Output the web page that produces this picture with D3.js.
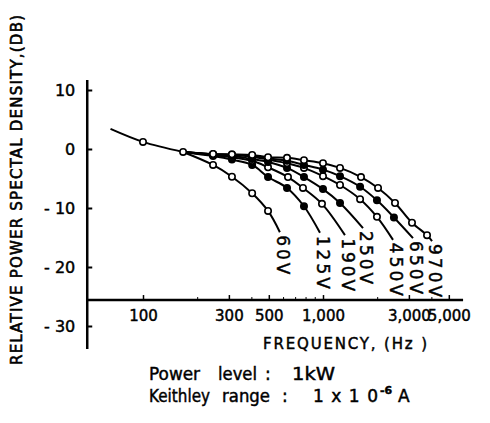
<!DOCTYPE html>
<html>
<head>
<meta charset="utf-8">
<script src="https://cdn.jsdelivr.net/npm/d3@7"></script>
<style>
body { margin: 0; background: #fff; }
text { font-family: "DejaVu Sans", sans-serif; fill: #000; stroke: #000; stroke-width: 0.45px; }
</style>
</head>
<body>
<script>
var seriesLabels = ["60V", "125V", "190V", "250V", "450V", "650V", "970V"];
var seriesFilled = [false, true, false, true, false, true, false];

// common start of every curve (first point is the bare line start)
var trunkFreq = [66, 100, 167];
var trunkDb = [3.4, 1.2, -0.5];

// first entry is the shared 167 Hz point, last entry is the unmarked end of the curve
var seriesFreq = [
  [167, 245, 312, 404, 495, 576],
  [167, 245, 312, 404, 495, 631, 784, 962],
  [167, 245, 312, 404, 495, 639, 774, 987, 1324],
  [167, 245, 312, 404, 495, 631, 784, 1000, 1243, 1668],
  [167, 245, 312, 404, 495, 631, 784, 1000, 1243, 1607, 1994, 2449],
  [167, 245, 312, 404, 495, 631, 784, 1000, 1243, 1607, 1994, 2478, 3162],
  [167, 245, 312, 404, 495, 631, 784, 1000, 1243, 1626, 2022, 2512, 3122, 3784, 4034]
];
var seriesDb = [
  [-0.5, -2.7, -4.7, -7.5, -10.5, -14.1],
  [-0.5, -1.2, -1.8, -2.7, -4.75, -6.6, -9.7, -14.2],
  [-0.5, -1.0, -1.4, -2.0, -3.1, -4.75, -6.6, -9.3, -14.6],
  [-0.5, -1.0, -1.2, -1.7, -2.2, -3.2, -4.75, -6.8, -9.15, -13.4],
  [-0.5, -0.9, -1.0, -1.3, -1.8, -2.4, -3.2, -4.6, -6.1, -8.5, -11.5, -15.4],
  [-0.5, -0.9, -1.0, -1.2, -1.6, -2.0, -2.7, -3.5, -4.6, -6.4, -8.7, -11.6, -15.1],
  [-0.5, -0.85, -0.9, -1.0, -1.4, -1.5, -1.9, -2.4, -3.2, -4.75, -6.6, -9.15, -12.5, -14.6, -15.6]
];

var yTicks = [10, 0, -10, -20, -30];
var xTicks = [100, 300, 500, 1000, 3000, 5000];
var xMinorTicks = [200, 400, 600, 700, 800, 900, 2000, 4000];
var xAxisDb = -25.6;
var xStart = 49, xEnd = 6000;
var yTop = 11.7, yBottom = -33.9;

var width = 490, height = 423;

var x = d3.scaleLog().domain([100, 1000]).range([143, 323]);
var y = d3.scaleLinear().domain([10, -30]).range([90, 326]);

var svg = d3.select("body").append("svg")
  .attr("width", width)
  .attr("height", height);

// axis lines
svg.append("line")
  .attr("x1", x(xStart)).attr("x2", x(xStart))
  .attr("y1", y(yTop)).attr("y2", y(yBottom))
  .attr("stroke", "#000").attr("stroke-width", 2.5);

svg.append("line")
  .attr("x1", x(xStart)).attr("x2", x(xEnd))
  .attr("y1", y(xAxisDb)).attr("y2", y(xAxisDb))
  .attr("stroke", "#000").attr("stroke-width", 2.5);

var yAxis = svg.append("g")
  .attr("transform", "translate(" + x(xStart) + ",0)")
  .call(d3.axisLeft(y).tickValues(yTicks).tickSize(-5).tickPadding(12)
    .tickFormat(function(d) { return d < 0 ? "- " + (-d) : d; }));
yAxis.select(".domain").remove();
yAxis.selectAll("line").attr("stroke-width", 2);
yAxis.selectAll("text").style("font-size", "16px").style("font-family", "DejaVu Sans");

var xAxis = svg.append("g")
  .attr("transform", "translate(0," + y(xAxisDb) + ")")
  .call(d3.axisBottom(x).tickValues(xTicks).tickSize(-5).tickPadding(10)
    .tickFormat(d3.format(",")));
xAxis.select(".domain").remove();
xAxis.selectAll("line").attr("stroke-width", 1.5);
xAxis.selectAll("text").style("font-size", "15px").style("font-family", "DejaVu Sans");

var xMinor = svg.append("g")
  .attr("transform", "translate(0," + y(xAxisDb) + ")")
  .call(d3.axisBottom(x).tickValues(xMinorTicks).tickSize(-3).tickFormat(""));
xMinor.select(".domain").remove();

// curves
var line = d3.line()
  .x(function(d) { return x(d[0]); })
  .y(function(d) { return y(d[1]); })
  .curve(d3.curveCatmullRom.alpha(0.5));

var trunk = trunkFreq.map(function(f, i) { return [f, trunkDb[i]]; });

svg.append("path")
  .attr("d", line(trunk))
  .attr("fill", "none").attr("stroke", "#000").attr("stroke-width", 2);

seriesFreq.forEach(function(fs, s) {
  var pts = fs.map(function(f, i) { return [f, seriesDb[s][i]]; });
  svg.append("path")
    .attr("d", line(pts))
    .attr("fill", "none").attr("stroke", "#000").attr("stroke-width", 2);
});

// markers: open on the shared points, then per series
svg.selectAll("circle.trunk")
  .data(trunk.slice(1))
  .enter().append("circle")
  .attr("cx", function(d) { return x(d[0]); })
  .attr("cy", function(d) { return y(d[1]); })
  .attr("r", 3.2)
  .attr("fill", "#fff").attr("stroke", "#000").attr("stroke-width", 1.6);

seriesFreq.forEach(function(fs, s) {
  var pts = fs.map(function(f, i) { return [f, seriesDb[s][i]]; }).slice(1, -1);
  svg.selectAll(null)
    .data(pts)
    .enter().append("circle")
    .attr("cx", function(d) { return x(d[0]); })
    .attr("cy", function(d) { return y(d[1]); })
    .attr("r", 3.2)
    .attr("fill", seriesFilled[s] ? "#000" : "#fff")
    .attr("stroke", "#000").attr("stroke-width", 1.6);

  var endF = fs[fs.length - 1], endD = seriesDb[s][fs.length - 1];
  svg.append("text")
    .attr("transform", "translate(" + (x(endF) - 3) + "," + (y(endD) + 3) + ") rotate(90)")
    .style("font-size", "17px")
    .style("letter-spacing", "3px")
    .text(seriesLabels[s]);
});

// titles
svg.append("text")
  .attr("transform", "translate(22,190) rotate(-90)")
  .attr("text-anchor", "middle")
  .attr("textLength", 350)
  .attr("lengthAdjust", "spacing")
  .style("font-size", "15px")
  .style("stroke-width", "0.6px")
  .text("RELATIVE  POWER  SPECTAL  DENSITY,(DB)");

svg.append("text")
  .attr("x", 263).attr("y", 349)
  .attr("textLength", 164)
  .attr("lengthAdjust", "spacing")
  .style("font-size", "15px")
  .text("FREQUENCY, (Hz )");

function word(sel, x0, len, str) {
  return sel.append("tspan").attr("x", x0)
    .attr("textLength", len).attr("lengthAdjust", "spacingAndGlyphs").text(str);
}

var p = svg.append("text").attr("y", 380).style("font-size", "17px");
word(p, 149, 51, "Power");
word(p, 218, 39, "level");
p.append("tspan").attr("x", 265).text(":");
word(p, 292, 43, "1kW");

var k = svg.append("text").attr("y", 402).style("font-size", "17px");
word(k, 149, 61, "Keithley");
word(k, 222, 48, "range");
k.append("tspan").attr("x", 282).text(":");
k.append("tspan").attr("x", 313).attr("textLength", 65).attr("lengthAdjust", "spacing").text("1x10");
k.append("tspan").attr("x", 380).attr("dy", -8).style("font-size", "11px").style("font-weight", "bold").text("-6");
k.append("tspan").attr("x", 398).attr("dy", 8).text("A");
</script>
</body>
</html>
